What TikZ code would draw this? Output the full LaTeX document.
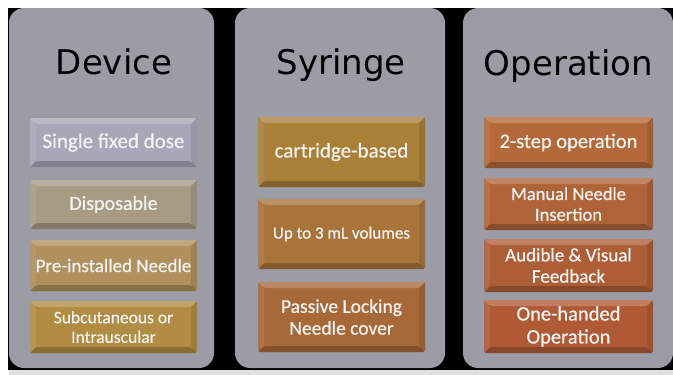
\documentclass[tikz,border=0pt]{standalone}
\usepackage{fontspec}
\setmainfont{Carlito}
\newfontfamily\boxfont{Carlito}[FakeBold=0.6]
\newfontfamily\titlefont{DejaVu Sans}
\usetikzlibrary{calc}

\definecolor{panelgrey}{RGB}{155,156,165}
\definecolor{boxtext}{RGB}{243,243,243}
\definecolor{cA}{RGB}{166,167,184}
\definecolor{cB}{RGB}{168,155,132}
\definecolor{cC}{RGB}{176,144,92}
\definecolor{cD}{RGB}{178,140,66}
\definecolor{cE}{RGB}{170,127,54}
\definecolor{cF}{RGB}{169,116,57}
\definecolor{cG}{RGB}{168,105,57}
\definecolor{cH}{RGB}{179,105,58}
\definecolor{cI}{RGB}{175,100,56}
\definecolor{cJ}{RGB}{174,94,54}
\definecolor{cK}{RGB}{176,90,53}

\tikzset{
  panel/.style={fill=panelgrey, rounded corners=15pt},
  title/.style={font=\titlefont\fontsize{34}{37}\selectfont, text=black, anchor=base},
  bevelbox/.style={
    fill=#1, rounded corners=2pt, text=boxtext, align=center, inner sep=0pt,
    path picture={
      \coordinate (nw) at (path picture bounding box.north west);
      \coordinate (ne) at (path picture bounding box.north east);
      \coordinate (sw) at (path picture bounding box.south west);
      \coordinate (se) at (path picture bounding box.south east);
      % top bevel
      \fill[white,opacity=.22] (nw) -- (ne) -- ($(ne)+(-6pt,-6pt)$) -- ($(nw)+(6pt,-6pt)$) -- cycle;
      % left bevel
      \fill[white,opacity=.08] (nw) -- ($(nw)+(6pt,-6pt)$) -- ($(sw)+(6pt,6pt)$) -- (sw) -- cycle;
      % right bevel
      \fill[black,opacity=.10] (ne) -- (se) -- ($(se)+(-6pt,6pt)$) -- ($(ne)+(-6pt,-6pt)$) -- cycle;
      % bottom bevel
      \fill[black,opacity=.22] (sw) -- (se) -- ($(se)+(-6pt,6pt)$) -- ($(sw)+(6pt,6pt)$) -- cycle;
    }},
  dbox/.style={bevelbox=#1, minimum width=167pt},
  sbox/.style={bevelbox=#1, minimum width=167pt, minimum height=70pt},
  obox/.style={bevelbox=#1, minimum width=169pt},
}

\newcommand{\fs}[1]{\boxfont\fontsize{#1}{1.12\dimexpr#1pt\relax}\selectfont}

\begin{document}
\begin{tikzpicture}[x=1pt, y=-1pt]
  \useasboundingbox (0,0) rectangle (673,375);
  \fill[white] (0,0) rectangle (673,375);
  \fill[black!12] (9,370) rectangle (673,375);
  \fill[black] (8,8) rectangle (673,370);

  % three grey columns
  \fill[panel] (9,8) rectangle (214,368);
  \fill[panel] (235,8) rectangle (445,368);
  \fill[panel] (463,8) rectangle (673,368);

  % column headings
  \node[title] (tdev) at (114,74) {Device};
  \node[title] (tsyr) at (341,74) {Syringe};
  \node[title] (top) at (568.5,75) {Operation};

  % Device
  \node[dbox=cA, minimum height=49pt, font=\fs{21}] (d1) at (113.5,142.5) {Single fixed dose};
  \node[dbox=cB, minimum height=49pt, font=\fs{20}] (d2) at (113.5,204.5) {Disposable};
  \node[dbox=cC, minimum height=51pt, font=\fs{19}] (d3) at (113.5,265.5) {Pre-installed Needle};
  \node[dbox=cD, minimum height=52pt, font=\fs{17.5}] (d4) at (113.5,327) {Subcutaneous or\\Intrauscular};

  % Syringe
  \node[sbox=cE, font=\fs{21}] (s1) at (341.5,152) {cartridge-based};
  \node[sbox=cF, font=\fs{17}] (s2) at (341.5,234) {Up to 3 mL volumes};
  \node[sbox=cG, font=\fs{19.5}] (s3) at (341.5,317) {Passive Locking\\Needle cover};

  % Operation
  \node[obox=cH, minimum height=51pt, font=\fs{20.5}] (o1) at (568.5,142.5) {2-step operation};
  \node[obox=cI, minimum height=52pt, font=\fs{18.5}] (o2) at (568.5,204) {Manual Needle\\Insertion};
  \node[obox=cJ, minimum height=53pt, font=\fs{19}] (o3) at (568.5,265.5) {Audible \& Visual\\Feedback};
  \node[obox=cK, minimum height=53pt, font=\fs{20.5}] (o4) at (568.5,326.5) {One-handed\\Operation};
\end{tikzpicture}
\end{document}
